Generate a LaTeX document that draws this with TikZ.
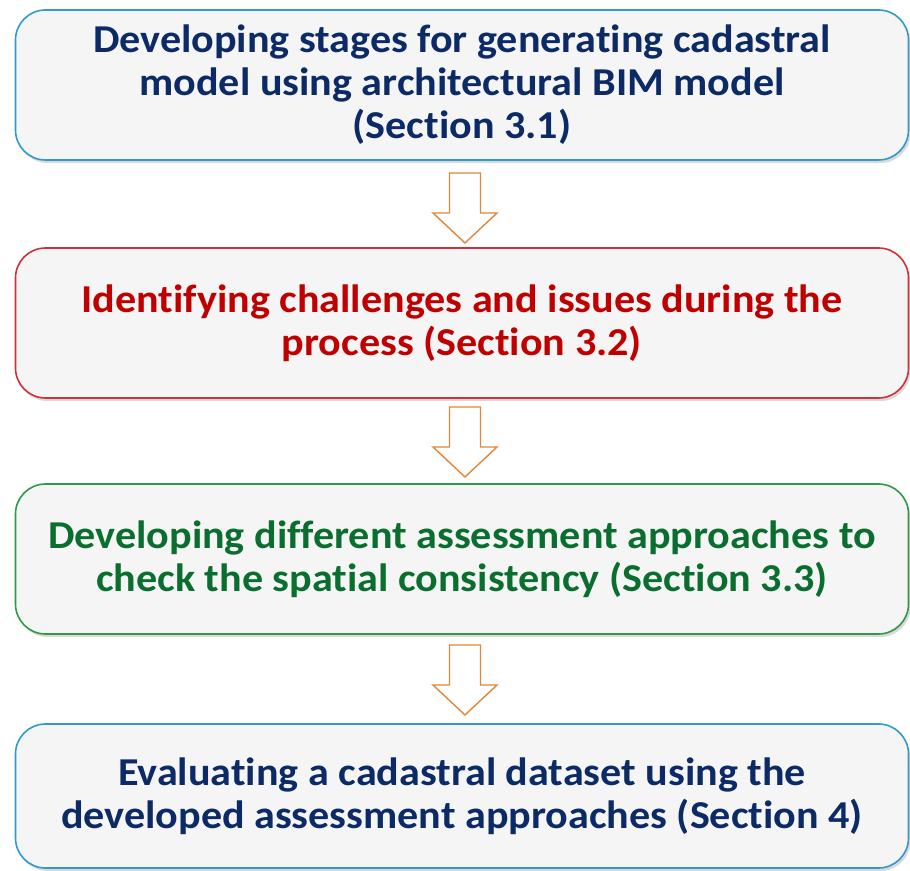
\documentclass[tikz,border=0pt]{standalone}
\usepackage{fontspec}
\setmainfont{Carlito}[FakeStretch=1.066, Ligatures=NoCommon]
\usetikzlibrary{shadows,calc}
\definecolor{navytxt}{HTML}{0B2A66}
\definecolor{redtxt}{HTML}{C00000}
\definecolor{greentxt}{HTML}{0A6E2E}
\definecolor{blueln}{HTML}{2E9AD0}
\definecolor{redln}{HTML}{D0303A}
\definecolor{greenln}{HTML}{2E9A48}
\definecolor{boxfill}{HTML}{F5F5F5}
\definecolor{orangeln}{HTML}{E0873A}
\begin{document}
\begin{tikzpicture}[x=1pt,y=1pt]
\useasboundingbox (0,0) rectangle (910,870);
\tikzset{
  box/.style={draw, line width=1.6pt, fill=boxfill, rounded corners=30pt,
    minimum width=893pt, minimum height=150pt, inner sep=0pt, align=center,
    font=\fontsize{39.5}{43}\selectfont\bfseries,
    drop shadow={opacity=0.3, shadow xshift=2pt, shadow yshift=-3pt}},
  arrowline/.style={draw=orangeln, line width=1.4pt, fill=white, line join=miter},
  pics/downarrow/.style={code={
    \path[arrowline] (-15.5,35) -- (15.5,35) -- (15.5,-5) -- (32,-5) -- (0,-35) -- (-32,-5) -- (-15.5,-5) -- cycle;}}
}
\node[box, draw=blueln, text=navytxt] (b1) at (462,785)
  {Developing stages for generating cadastral\\model using architectural BIM model\\(Section 3.1)};
\node[box, draw=redln, text=redtxt] (b2) at (462,547)
  {Identifying challenges and issues during the\\process (Section 3.2)};
\node[box, draw=greenln, text=greentxt] (b3) at (462,311)
  {Developing different assessment approaches to\\check the spatial consistency (Section 3.3)};
\node[box, draw=blueln, text=navytxt, minimum height=144pt] (b4) at (462,74)
  {Evaluating a cadastral dataset using the\\developed assessment approaches (Section 4)};
\coordinate (a1) at ($(b1.south)!0.5!(b2.north)+(3,-4)$);
\coordinate (a2) at ($(b2.south)!0.5!(b3.north)+(3,-1)$);
\coordinate (a3) at ($(b3.south)!0.5!(b4.north)+(3,-1)$);
\pic at (a1) {downarrow};
\pic at (a2) {downarrow};
\pic at (a3) {downarrow};
\end{tikzpicture}
\end{document}
